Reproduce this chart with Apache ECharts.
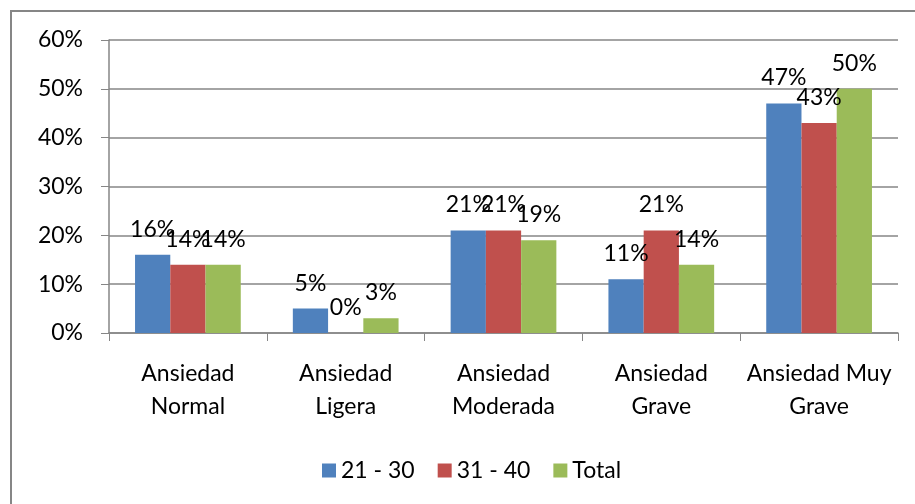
<!DOCTYPE html>
<html>
<head>
<meta charset="utf-8">
<title>Ansiedad</title>
<script src="https://cdn.jsdelivr.net/npm/echarts@6/dist/echarts.min.js"></script>
<style>
    html, body { margin: 0; padding: 0; background: #fff; }
    #chart { width: 915px; height: 504px; }
</style>
</head>
<body>
<div id="chart"></div>
<script>
// categorias y valores (%)
var categorias = ['Ansiedad\nNormal', 'Ansiedad\nLigera', 'Ansiedad\nModerada', 'Ansiedad\nGrave', 'Ansiedad Muy\nGrave'];
var edad21a30 = [16, 5, 21, 11, 47];
var edad31a40 = [14, 0, 21, 21, 43];
var total = [14, 3, 19, 14, 50];
var nombres = ['21 - 30', '31 - 40', 'Total'];
var colores = ['#4F81BD', '#C0504D', '#9BBB59'];

var fuente = 'Lato';

function serie(nombre, datos, color) {
    return {
        name: nombre,
        type: 'bar',
        data: datos,
        barGap: '0%',
        barCategoryGap: '33%',
        itemStyle: { color: color },
        label: {
            show: true,
            position: 'top',
            distance: 14,
            formatter: '{c}%',
            color: '#000',
            fontFamily: fuente,
            fontSize: 23
        }
    };
}

window.onload = function () {
    var myChart = echarts.init(document.getElementById('chart'));
    var option = {
        animation: false,
        backgroundColor: '#fff',
        color: colores,
        graphic: [{
            type: 'rect',
            shape: { x: 11, y: 11, width: 940, height: 540 },
            style: { fill: 'none', stroke: '#868686', lineWidth: 2 }
        }],
        grid: { left: 109, right: 17, top: 40, bottom: 171 },
        legend: {
            bottom: 22,
            left: 322,
            padding: 0,
            icon: 'rect',
            itemWidth: 14,
            itemHeight: 14,
            itemGap: 23,
            textStyle: { fontFamily: fuente, fontSize: 23, color: '#000' },
            data: nombres
        },
        xAxis: {
            type: 'category',
            data: categorias,
            axisLine: { lineStyle: { color: '#868686', width: 1.5 } },
            axisTick: { show: true, length: 8, lineStyle: { color: '#868686' } },
            axisLabel: {
                margin: 24,
                interval: 0,
                color: '#000',
                fontFamily: fuente,
                fontSize: 23,
                lineHeight: 33
            }
        },
        yAxis: {
            type: 'value',
            min: 0,
            max: 60,
            interval: 10,
            axisLine: { show: true, lineStyle: { color: '#868686', width: 1.5 } },
            axisTick: { show: true, length: 8, lineStyle: { color: '#868686' } },
            splitLine: { lineStyle: { color: '#868686', width: 1.5 } },
            axisLabel: {
                formatter: '{value}%',
                margin: 26,
                color: '#000',
                fontFamily: fuente,
                fontSize: 23
            }
        },
        series: [
            serie(nombres[0], edad21a30, colores[0]),
            serie(nombres[1], edad31a40, colores[1]),
            serie(nombres[2], total, colores[2])
        ]
    };
    myChart.setOption(option);
};
</script>
</body>
</html>
